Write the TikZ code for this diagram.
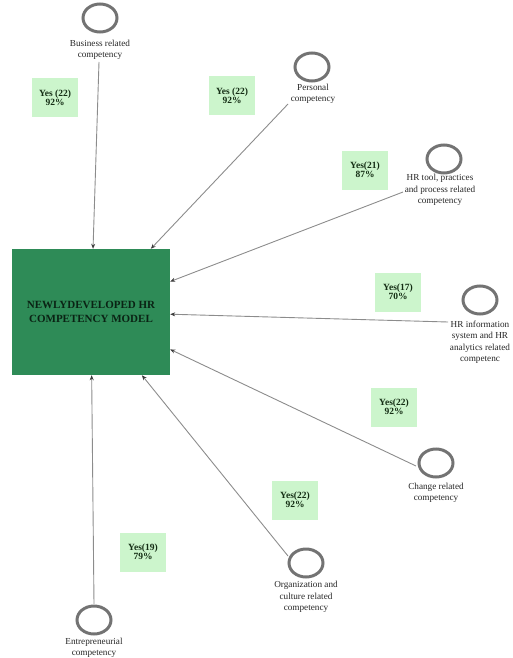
\documentclass[tikz,border=0pt]{standalone}
\usepackage{fontspec}
\setmainfont{Liberation Serif}
\usetikzlibrary{arrows.meta,shapes.geometric}
\definecolor{boxgreen}{RGB}{46,139,87}
\definecolor{yesfill}{RGB}{204,245,204}
\definecolor{ringgray}{RGB}{115,115,115}
\definecolor{linegray}{RGB}{140,140,140}
\definecolor{tipgray}{RGB}{60,60,60}
\definecolor{darktext}{RGB}{20,45,20}
\definecolor{modeltext}{RGB}{10,35,20}
\begin{document}
\begin{tikzpicture}[x=1pt,y=-1pt,
  comp/.style={ellipse, draw=ringgray, line width=3pt, minimum width=34pt, minimum height=28pt, inner sep=0pt},
  lab/.style={align=center, font=\fontsize{9.2}{11.5}\selectfont, text=black!85, inner sep=1pt},
  yes/.style={fill=yesfill, minimum width=46pt, minimum height=39pt, align=center, inner sep=1pt, font=\bfseries\fontsize{9.5}{9}\selectfont, text=darktext},
  model/.style={fill=boxgreen, minimum width=158pt, minimum height=126pt, align=center, inner sep=0pt, font=\bfseries\fontsize{11}{14}\selectfont, text=modeltext},
  conn/.style={draw=linegray, line width=0.9pt, -{Stealth[length=5pt,width=4pt,color=tipgray]}}]
\useasboundingbox (0,0) rectangle (512,658);

\node[model] (box) at (91,312) {NEWLYDEVELOPED HR\\COMPETENCY MODEL};

\node[comp] (c1) at (100,18) {};
\node[lab] (l1) at (100,50) {Business related\\competency};
\node[comp] (c2) at (312,67) {};
\node[lab] (l2) at (313,94) {Personal\\competency};
\node[comp] (c3) at (444,159) {};
\node[lab] (l3) at (440,190) {HR tool, practices\\and process related\\competency};
\node[comp] (c4) at (480,300) {};
\node[lab] (l4) at (480,342) {HR information\\system and HR\\analytics related\\competenc};
\node[comp] (c5) at (436,463) {};
\node[lab] (l5) at (436,493) {Change related\\competency};
\node[comp] (c6) at (306,563) {};
\node[lab] (l6) at (306,597) {Organization and\\culture related\\competency};
\node[comp] (c7) at (94,620) {};
\node[lab] (l7) at (94,648) {Entrepreneurial\\competency};

\node[yes] (y1) at (55,98) {Yes (22)\\92\%};
\node[yes] (y2) at (232,96) {Yes (22)\\92\%};
\node[yes] (y3) at (365,170) {Yes(21)\\87\%};
\node[yes] (y4) at (398,292) {Yes(17)\\70\%};
\node[yes] (y5) at (394,407) {Yes(22)\\92\%};
\node[yes] (y6) at (295,500) {Yes(22)\\92\%};
\node[yes] (y7) at (143,552) {Yes(19)\\79\%};

\coordinate (s1) at (99,62);
\coordinate (s2) at (288,104);
\coordinate (s3) at (403,192);
\coordinate (s4) at (448,322);
\coordinate (s5) at (416,466);
\coordinate (s6) at (288,556);
\coordinate (s7) at (94,604);

\draw[conn] (s1) -- (box);
\draw[conn] (s2) -- (box);
\draw[conn] (s3) -- (box);
\draw[conn] (s4) -- (box);
\draw[conn] (s5) -- (box);
\draw[conn] (s6) -- (box);
\draw[conn] (s7) -- (box);
\end{tikzpicture}
\end{document}
